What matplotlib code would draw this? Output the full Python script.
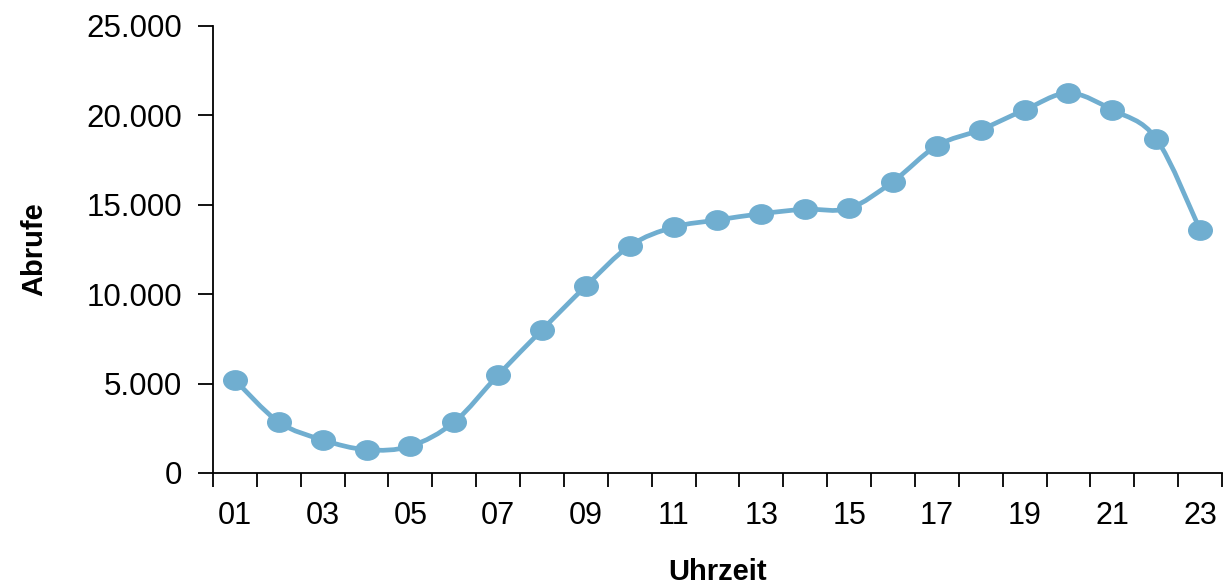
import numpy as np
import matplotlib.pyplot as plt
from matplotlib.path import Path
from matplotlib.patches import PathPatch
from matplotlib.transforms import Affine2D
from matplotlib.ticker import FuncFormatter, FixedLocator

plt.rcParams['font.family'] = ['Liberation Sans', 'DejaVu Sans']

# Abrufe pro Stunde
hours = ["01", "02", "03", "04", "05", "06", "07", "08", "09", "10", "11", "12",
         "13", "14", "15", "16", "17", "18", "19", "20", "21", "22", "23"]
calls = [5200, 2850, 1850, 1300, 1500, 2850, 5480, 8000, 10450, 12700, 13750, 14150,
         14500, 14750, 14800, 16300, 18300, 19200, 20300, 21250, 20300, 18700, 13600]

COLOR = "#70aed0"


def smooth_path(x, y):
    """Bezier path through the points, Excel-style smoothing."""
    pts = np.column_stack([x, y]).astype(float)
    ext = np.vstack([pts[0], pts, pts[-1]])
    verts = [pts[0]]
    codes = [Path.MOVETO]
    for i in range(len(pts) - 1):
        p0, p1, p2, p3 = ext[i], ext[i + 1], ext[i + 2], ext[i + 3]
        c1 = p1 + (p2 - p0) / 6.0
        c2 = p2 - (p3 - p1) / 6.0
        verts += [c1, c2, p2]
        codes += [Path.CURVE4] * 3
    return Path(verts, codes)


fig = plt.figure(figsize=(12.29, 5.85), dpi=100)
ax = fig.add_axes([0.1733, 0.1915, 0.821, 0.7641])

x = np.arange(1, len(hours) + 1)
ax.add_patch(PathPatch(smooth_path(x, calls), facecolor="none", edgecolor=COLOR,
                       linewidth=3.4, capstyle="round", joinstyle="round", zorder=2))

ellipse = Path.unit_circle().transformed(Affine2D().scale(1.22, 1.0))
ax.plot(x, calls, linestyle="none", marker=ellipse, markersize=17,
        markerfacecolor=COLOR, markeredgecolor=COLOR, zorder=3)

ax.set_xlim(0.5, len(hours) + 0.5)
ax.set_ylim(0, 25000)

ax.yaxis.set_major_locator(FixedLocator(range(0, 25001, 5000)))
ax.yaxis.set_major_formatter(FuncFormatter(lambda v, p: f"{int(v):,}".replace(",", ".")))

ax.set_xticks(x[::2])
ax.set_xticklabels(hours[::2])
ax.set_xticks(np.arange(0.5, len(hours) + 1, 1.0), minor=True)

ax.tick_params(axis="x", which="major", length=0, pad=20, labelsize=22)
ax.tick_params(axis="x", which="minor", length=10, width=1.3, direction="out")
ax.tick_params(axis="y", which="major", length=11, width=1.3, pad=11, labelsize=22.5)

for side in ("top", "right"):
    ax.spines[side].set_visible(False)
for side in ("left", "bottom"):
    ax.spines[side].set_linewidth(1.3)

ax.set_xlabel("Uhrzeit", fontsize=21, fontweight="bold")
ax.set_ylabel("Abrufe", fontsize=21, fontweight="bold")
ax.xaxis.set_label_coords(0.5, -0.19)
ax.yaxis.set_label_coords(-0.163, 0.5)

fig.savefig("out.png", dpi=100)
